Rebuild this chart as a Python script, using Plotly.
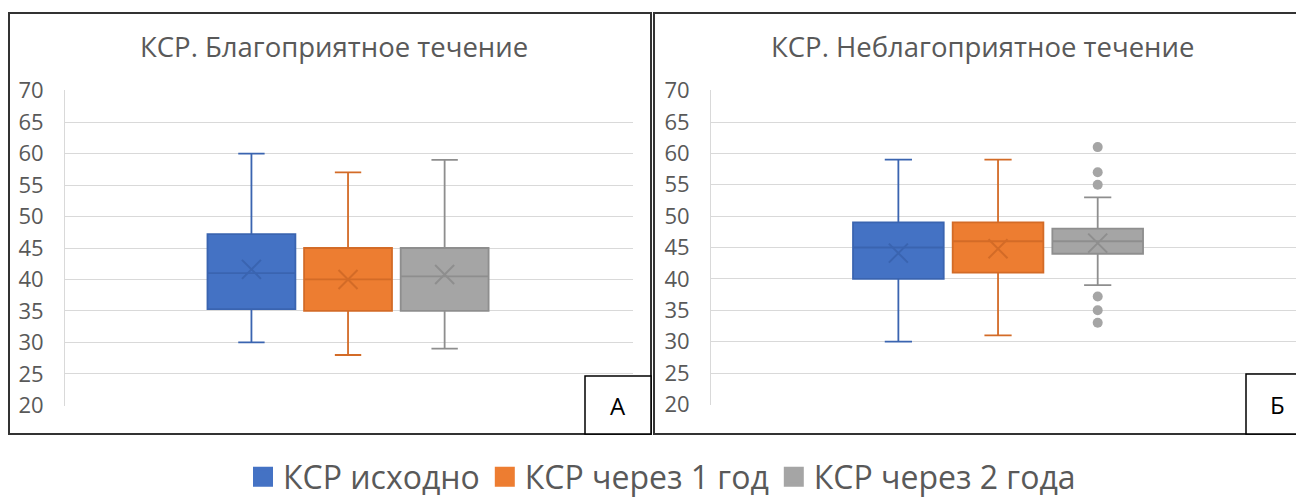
import plotly.graph_objects as go

# Серии (одна категория, три ряда)
series = ["КСР исходно", "КСР через 1 год", "КСР через 2 года"]
fill_colors = ["#4472C4", "#ED7D31", "#A5A5A5"]
line_colors = ["#3A64B0", "#D36B27", "#8E8E8E"]

# А: благоприятное течение
fav_min = [30, 28, 29]
fav_q1 = [35.3, 35.0, 35.0]
fav_median = [41.0, 40.0, 40.5]
fav_q3 = [47.2, 45.0, 45.0]
fav_max = [60, 57, 59]
fav_mean = [41.6, 40.0, 40.8]

# Б: неблагоприятное течение
unf_min = [30, 31, 39]
unf_q1 = [40, 41, 44]
unf_median = [45, 46, 46]
unf_q3 = [49, 49, 48]
unf_max = [59, 59, 53]
unf_mean = [44.1, 44.8, 45.7]
unf_outliers_2y = [61, 57, 55, 37.2, 35, 33]

y_ticks = [20, 25, 30, 35, 40, 45, 50, 55, 60, 65, 70]

# страница рисуется с отступом 8px, поэтому холст чуть меньше окна
OFF = 8
W, H = 1304 - OFF, 497 - OFF
FONT = "Open Sans"
TXT = "#595959"


def px_x(p):
    return (p - OFF) / W


def px_y(p):
    return 1 - (p - OFF) / H


fig = go.Figure()


def add_panel(xa, ya, q1, med, q3, lo, hi, mean):
    for i, name in enumerate(series):
        fig.add_trace(go.Box(
            x=[i], q1=[q1[i]], median=[med[i]], q3=[q3[i]],
            lowerfence=[lo[i]], upperfence=[hi[i]],
            name=name, width=0.91, whiskerwidth=0.3,
            fillcolor=fill_colors[i],
            line=dict(color=line_colors[i], width=1.8),
            boxpoints=False, showlegend=False,
            xaxis=xa, yaxis=ya,
        ))
        # среднее — крестик
        fig.add_trace(go.Scatter(
            x=[i], y=[mean[i]], mode="markers",
            marker=dict(symbol="x-thin-open", size=19, color=line_colors[i],
                        line=dict(color=line_colors[i], width=2)),
            showlegend=False, hoverinfo="y",
            xaxis=xa, yaxis=ya,
        ))


add_panel("x", "y", fav_q1, fav_median, fav_q3, fav_min, fav_max, fav_mean)
add_panel("x2", "y2", unf_q1, unf_median, unf_q3, unf_min, unf_max, unf_mean)

# Выбросы (через 2 года, неблагоприятное)
fig.add_trace(go.Scatter(
    x=[2] * len(unf_outliers_2y), y=unf_outliers_2y, mode="markers",
    marker=dict(color="#A5A5A5", size=10),
    showlegend=False, xaxis="x2", yaxis="y2",
))

# Легенда
for i, name in enumerate(series):
    fig.add_trace(go.Scatter(
        x=[None], y=[None], mode="markers", name=name,
        marker=dict(symbol="square", size=16, color=fill_colors[i],
                    line=dict(color=fill_colors[i], width=4)),
        xaxis="x", yaxis="y",
    ))

yaxis_style = dict(
    range=[19.9, 70.1], tickvals=y_ticks,
    showgrid=True, gridcolor="#D9D9D9", gridwidth=1,
    showline=True, linecolor="#D9D9D9", linewidth=1,
    zeroline=False, ticks="", ticklabelstandoff=16,
    tickfont=dict(family=FONT, size=22, color=TXT),
    fixedrange=True,
)
xaxis_style = dict(showgrid=False, zeroline=False, showticklabels=False,
                   showline=False, fixedrange=True)


def label(text, x, y, size, color):
    return dict(text=text, x=px_x(x), y=px_y(y), xref="paper", yref="paper",
                xanchor="center", yanchor="middle", showarrow=False,
                font=dict(family=FONT, size=size, color=color))


def frame(x0, x1, y0, y1, color, width, fill=None):
    return dict(type="rect", xref="paper", yref="paper",
                x0=px_x(x0), x1=px_x(x1), y0=px_y(y1), y1=px_y(y0),
                fillcolor=fill, line=dict(color=color, width=width))


fig.update_layout(
    width=W, height=H,
    margin=dict(l=0, r=0, t=0, b=0, autoexpand=False),
    paper_bgcolor="white", plot_bgcolor="white",
    xaxis=dict(domain=[px_x(65), px_x(633)], range=[-1.93, 3.95], **xaxis_style),
    yaxis=dict(domain=[px_y(406), px_y(90)], anchor="x", **yaxis_style),
    xaxis2=dict(domain=[px_x(711), 1.0], range=[-1.88, 4.07], anchor="y2", **xaxis_style),
    yaxis2=dict(domain=[px_y(405), px_y(90)], anchor="x2", **yaxis_style),
    showlegend=True,
    legend=dict(orientation="h", x=px_x(662), xanchor="center", y=px_y(477),
                yanchor="middle", font=dict(family=FONT, size=32, color=TXT),
                itemclick=False, itemdoubleclick=False),
    annotations=[
        label("КСР. Благоприятное течение", 334, 47, 27.5, TXT),
        label("КСР. Неблагоприятное течение", 983, 47, 27.5, TXT),
        label("А", 618, 405, 24, "black"),
        label("Б", 1277, 404, 24, "black"),
    ],
    shapes=[
        frame(9, 651, 13, 434, "#333333", 2),
        frame(654, 1310, 13, 434, "#333333", 2),
        frame(585, 651, 376, 434, "black", 1.5, "white"),
        frame(1246, 1310, 374, 434, "black", 1.5, "white"),
    ],
)

fig.write_html("out.html")
